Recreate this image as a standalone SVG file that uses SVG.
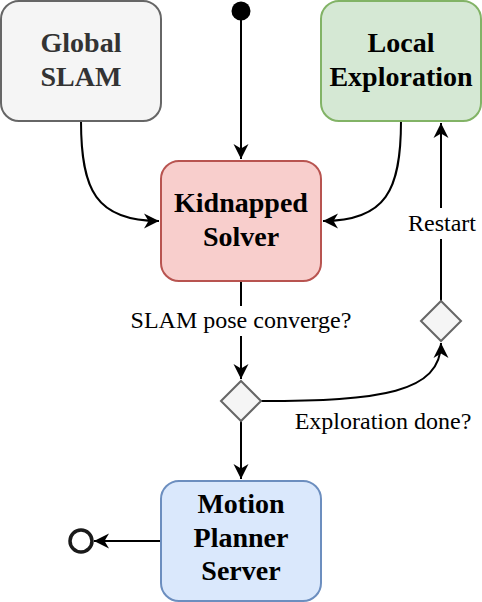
<svg xmlns="http://www.w3.org/2000/svg" width="482" height="602" viewBox="0 0 482 602">
<defs>
<style>
.node{stroke-width:2}
.t{font-family:"Liberation Serif","Times New Roman",serif;font-weight:bold;font-size:28px;text-anchor:middle;fill:#000}
.lbl{font-family:"Liberation Serif","Times New Roman",serif;font-size:24px;text-anchor:middle;fill:#000}
.e{fill:none;stroke:#000;stroke-width:2}
</style>
<marker id="arr" markerUnits="userSpaceOnUse" markerWidth="18" markerHeight="18" viewBox="-16 -9 18 18" refX="0" refY="0" orient="auto">
<path d="M-15,-7.5 L0,0 L-15,7.5 L-10.5,0 Z" fill="#000"/>
</marker>
</defs>
<rect width="482" height="602" fill="#fff"/>
<g id="connectors">
<path class="e" d="M241,20 L241,159" marker-end="url(#arr)"/>
<path class="e" d="M81,121 C81,190 96,221 159,221" marker-end="url(#arr)"/>
<path class="e" d="M401,121 C401,190 386,221 323,221" marker-end="url(#arr)"/>
<path class="e" d="M241,281 L241,379" marker-end="url(#arr)"/>
<path class="e" d="M241,421 L241,479" marker-end="url(#arr)"/>
<path class="e" d="M261,401 C380,401 441,393 441,343" marker-end="url(#arr)"/>
<path class="e" d="M441,301 L441,123" marker-end="url(#arr)"/>
<path class="e" d="M161,541 L94,541" marker-end="url(#arr)"/>
<rect x="130" y="306" width="222" height="30" fill="#fff"/>
<text class="lbl" x="241" y="328">SLAM pose converge?</text>
<rect x="408" y="208" width="68" height="31" fill="#fff"/>
<text class="lbl" x="442" y="231">Restart</text>
<text class="lbl" x="383" y="429">Exploration done?</text>
</g>
<g id="start"><circle cx="241" cy="11" r="9.5" fill="#000"/></g>
<g id="global-slam">
<rect class="node" x="1" y="1" width="160" height="120" rx="18" fill="#f5f5f5" stroke="#666666"/>
<text class="t" x="81" y="52" style="fill:#333333">Global</text>
<text class="t" x="81" y="85.5" style="fill:#333333">SLAM</text>
</g>
<g id="local-exploration">
<rect class="node" x="321" y="1" width="160" height="120" rx="18" fill="#d5e8d4" stroke="#82b366"/>
<text class="t" x="401" y="52">Local</text>
<text class="t" x="401" y="85.5">Exploration</text>
</g>
<g id="kidnapped-solver">
<rect class="node" x="161" y="161" width="160" height="120" rx="18" fill="#f8cecc" stroke="#b85450"/>
<text class="t" x="241" y="212">Kidnapped</text>
<text class="t" x="241" y="245.5">Solver</text>
</g>
<g id="decision-1"><path class="node" d="M221,401 L241,381 L261,401 L241,421 Z" fill="#f5f5f5" stroke="#666666"/></g>
<g id="decision-2"><path class="node" d="M421,321 L441,301 L461,321 L441,341 Z" fill="#f5f5f5" stroke="#666666"/></g>
<g id="motion-planner-server">
<rect class="node" x="161" y="481" width="160" height="120" rx="18" fill="#dae8fc" stroke="#6c8ebf"/>
<text class="t" x="241" y="513">Motion</text>
<text class="t" x="241" y="546.5">Planner</text>
<text class="t" x="241" y="580">Server</text>
</g>
<g id="end"><circle cx="81" cy="541" r="11" fill="#fff" stroke="#1a1a1a" stroke-width="3.5"/></g>
</svg>
